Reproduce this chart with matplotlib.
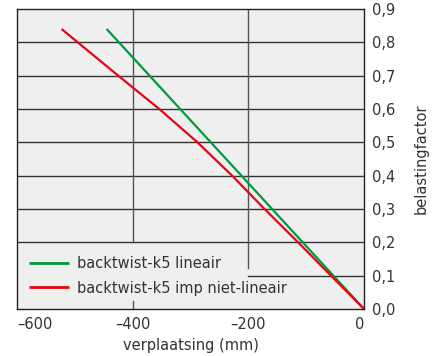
import matplotlib
matplotlib.use("Agg")
import matplotlib.pyplot as plt

# data
lin_x = [0, -445]
lin_y = [0.0, 0.84]
nl_x = [0, -57, -114, -172, -228, -288, -354, -425, -495, -523]
nl_y = [0.0, 0.1, 0.2, 0.3, 0.4, 0.5, 0.6, 0.7, 0.8, 0.84]
x_ticks = [-600, -400, -200, 0]
x_labels = ["\u2013600", "\u2013400", "\u2013200", "0"]
y_ticks = [0.0, 0.1, 0.2, 0.3, 0.4, 0.5, 0.6, 0.7, 0.8, 0.9]
y_labels = ["0,0", "0,1", "0,2", "0,3", "0,4", "0,5", "0,6", "0,7", "0,8", "0,9"]
series_names = ["backtwist-k5 lineair", "backtwist-k5 imp niet-lineair"]

plt.rcParams['font.family'] = ['DejaVu Sans']
fs = 10.5
fig = plt.figure(figsize=(4.35, 3.56), dpi=100)
ax = fig.add_axes([17/435, 1-309/356, (364-17)/435, 300/356])
ax.set_facecolor('#efefef')
ax.set_xlim(-600, 0)
ax.set_ylim(0, 0.9)

gc = '#333333'
glw = 1.0
# horizontal grid lines
for yv in [0.2, 0.3, 0.4, 0.5, 0.6, 0.7, 0.8]:
    ax.axhline(yv, color=gc, lw=glw, zorder=1)
ax.axhline(0.1, xmin=400/600, xmax=1, color=gc, lw=glw, zorder=1)
# vertical grid lines
ax.axvline(-400, ymin=0.2/0.9, ymax=1, color='#555555', lw=glw, zorder=1)
ax.axvline(-400, ymin=0, ymax=8/300, color='#555555', lw=glw, zorder=1)
ax.axvline(-200, ymin=0.122/0.9, ymax=1, color='#555555', lw=glw, zorder=1)

ax.plot(lin_x, lin_y, color='#009a3e', lw=1.6, label=series_names[0], zorder=3, solid_capstyle='butt')
ax.plot(nl_x, nl_y, color='#e30613', lw=1.6, label=series_names[1], zorder=3, solid_capstyle='butt')

for s in ax.spines.values():
    s.set_color('#222222')
    s.set_linewidth(1.0)

ax.set_xticks(x_ticks)
ax.set_xticklabels(x_labels, fontsize=fs, color='#333333')
lbls = ax.get_xticklabels()
lbls[0].set_ha('left')
lbls[-1].set_ha('right')
ax.yaxis.tick_right()
ax.yaxis.set_label_position('right')
ax.set_yticks(y_ticks)
ax.set_yticklabels(y_labels, fontsize=fs, color='#333333')
ax.tick_params(axis='both', length=0)
ax.tick_params(axis='x', pad=6)
ax.tick_params(axis='y', pad=6)
ax.set_xlabel("verplaatsing (mm)", fontsize=fs, color='#333333', labelpad=4)
ax.set_ylabel("belastingfactor", fontsize=fs, color='#333333', labelpad=13)

leg = ax.legend(loc='center left', bbox_to_anchor=((22-17)/347, (309-276)/300),
                frameon=False, borderpad=0, handlelength=2.7, handletextpad=0.6,
                labelspacing=0.62, fontsize=fs)
for t in leg.get_texts():
    t.set_color('#333333')
for l in leg.get_lines():
    l.set_linewidth(2.0)

fig.savefig("out.png", dpi=100)
